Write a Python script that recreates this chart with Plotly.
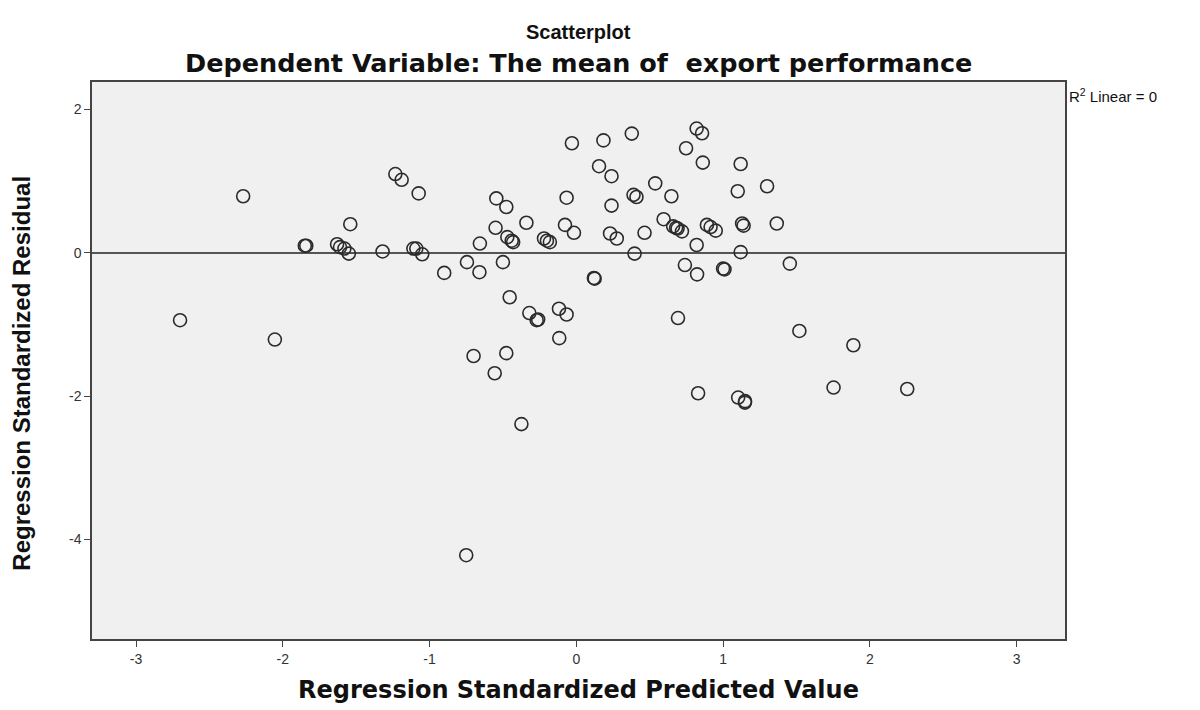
import plotly.graph_objects as go

# Regression standardized predicted values (x) and residuals (y)
pred = [
    -2.70, -2.27, -2.054,
    -1.85, -1.84, -1.63, -1.61, -1.58, -1.55, -1.54, -1.32,
    -1.233, -1.19, -1.11, -1.09, -1.074, -1.05,
    -0.90, -0.75, -0.745, -0.70, -0.66, -0.657,
    -0.556, -0.545, -0.55, -0.50, -0.477, -0.477, -0.47, -0.454, -0.44, -0.43,
    -0.374, -0.34, -0.32, -0.27, -0.26,
    -0.22, -0.20, -0.18, -0.118, -0.116, -0.077, -0.066, -0.066, -0.03, -0.016,
    0.12, 0.125, 0.155, 0.185, 0.23, 0.24, 0.24, 0.276,
    0.378, 0.39, 0.397, 0.41, 0.465, 0.538,
    0.595, 0.648, 0.66, 0.68, 0.69, 0.693, 0.72,
    0.74, 0.748, 0.82, 0.823, 0.83, 0.82, 0.857, 0.862,
    0.89, 0.915, 0.95, 1.00, 1.01,
    1.10, 1.103, 1.12, 1.12, 1.13, 1.14, 1.149, 1.15,
    1.30, 1.366, 1.455, 1.52, 1.753, 1.888, 2.255,
]
resid = [
    -0.94, 0.79, -1.21,
    0.10, 0.10, 0.12, 0.08, 0.06, -0.01, 0.40, 0.02,
    1.10, 1.02, 0.06, 0.06, 0.83, -0.02,
    -0.28, -4.22, -0.13, -1.44, -0.27, 0.13,
    -1.68, 0.76, 0.35, -0.13, 0.64, -1.40, 0.22, -0.62, 0.17, 0.15,
    -2.39, 0.42, -0.84, -0.94, -0.93,
    0.20, 0.17, 0.15, -0.78, -1.19, 0.39, 0.77, -0.86, 1.53, 0.28,
    -0.35, -0.36, 1.21, 1.57, 0.27, 1.07, 0.66, 0.20,
    1.665, 0.81, -0.01, 0.78, 0.28, 0.97,
    0.47, 0.79, 0.37, 0.35, 0.34, -0.91, 0.30,
    -0.17, 1.46, 1.735, -0.30, -1.96, 0.11, 1.67, 1.26,
    0.39, 0.36, 0.31, -0.22, -0.23,
    0.86, -2.02, 1.24, 0.01, 0.41, 0.38, -2.09, -2.07,
    0.93, 0.41, -0.15, -1.09, -1.88, -1.29, -1.90,
]

x_ticks = [-3, -2, -1, 0, 1, 2, 3]
y_ticks = [2, 0, -2, -4]

title_text = "Scatterplot"
subtitle_text = "Dependent Variable: The mean of  export performance"
x_title = "Regression Standardized Predicted Value"
y_title = "Regression Standardized Residual"
fit_label = "R<sup>2</sup> Linear = 0"

SANS = "Liberation Sans, Arial, sans-serif"
WIDE = "DejaVu Sans, Verdana, sans-serif"

fig = go.Figure()
fig.add_trace(go.Scatter(
    x=pred, y=resid, mode="markers",
    marker=dict(symbol="circle-open", size=13, color="#2b2b2b",
                line=dict(width=1.6, color="#2b2b2b")),
    showlegend=False, hoverinfo="x+y",
))

fig.update_layout(
    width=1200, height=710,
    margin=dict(l=84, r=143, t=74, b=79, autoexpand=False),
    paper_bgcolor="white",
    plot_bgcolor="#f0f0f0",
    font=dict(family=SANS, color="#222"),
    xaxis=dict(
        range=[-3.30, 3.33], tickvals=x_ticks, ticktext=[str(v) for v in x_ticks],
        showgrid=False, zeroline=False,
        showline=True, linecolor="#444", linewidth=1.5, mirror=True,
        ticks="outside", ticklen=6, tickcolor="#444", tickwidth=1.2,
        tickfont=dict(size=14, color="#333", family=SANS),
        title=dict(text="<b>" + x_title + "</b>", standoff=16,
                   font=dict(size=24, family=WIDE, color="#111")),
    ),
    yaxis=dict(
        range=[-5.39, 2.385], tickvals=y_ticks, ticktext=[str(v) for v in y_ticks],
        showgrid=False,
        zeroline=True, zerolinecolor="#555", zerolinewidth=1.5,
        showline=True, linecolor="#444", linewidth=1.5, mirror=True,
        ticks="outside", ticklen=6, tickcolor="#444", tickwidth=1.2,
        tickfont=dict(size=14, color="#333", family=SANS),
    ),
    annotations=[
        dict(text="<b>" + title_text + "</b>", xref="paper", yref="paper",
             x=0.5, y=1.0898, xanchor="center", yanchor="middle", showarrow=False,
             font=dict(size=20, color="#111", family=SANS)),
        dict(text="<b>" + subtitle_text + "</b>", xref="paper", yref="paper",
             x=0.5, y=1.034, xanchor="center", yanchor="middle", showarrow=False,
             font=dict(size=25.5, color="#111", family=WIDE)),
        dict(text="<b>" + y_title + "</b>", xref="paper", yref="paper",
             x=-0.072, y=0.478, xanchor="center", yanchor="middle", showarrow=False,
             textangle=-90, font=dict(size=24, color="#111", family=SANS)),
        dict(text=fit_label, xref="paper", yref="paper",
             x=1.002, y=0.975, xanchor="left", yanchor="middle", showarrow=False,
             font=dict(size=15, color="#111", family=SANS)),
    ],
)

fig.write_html("out.html")
